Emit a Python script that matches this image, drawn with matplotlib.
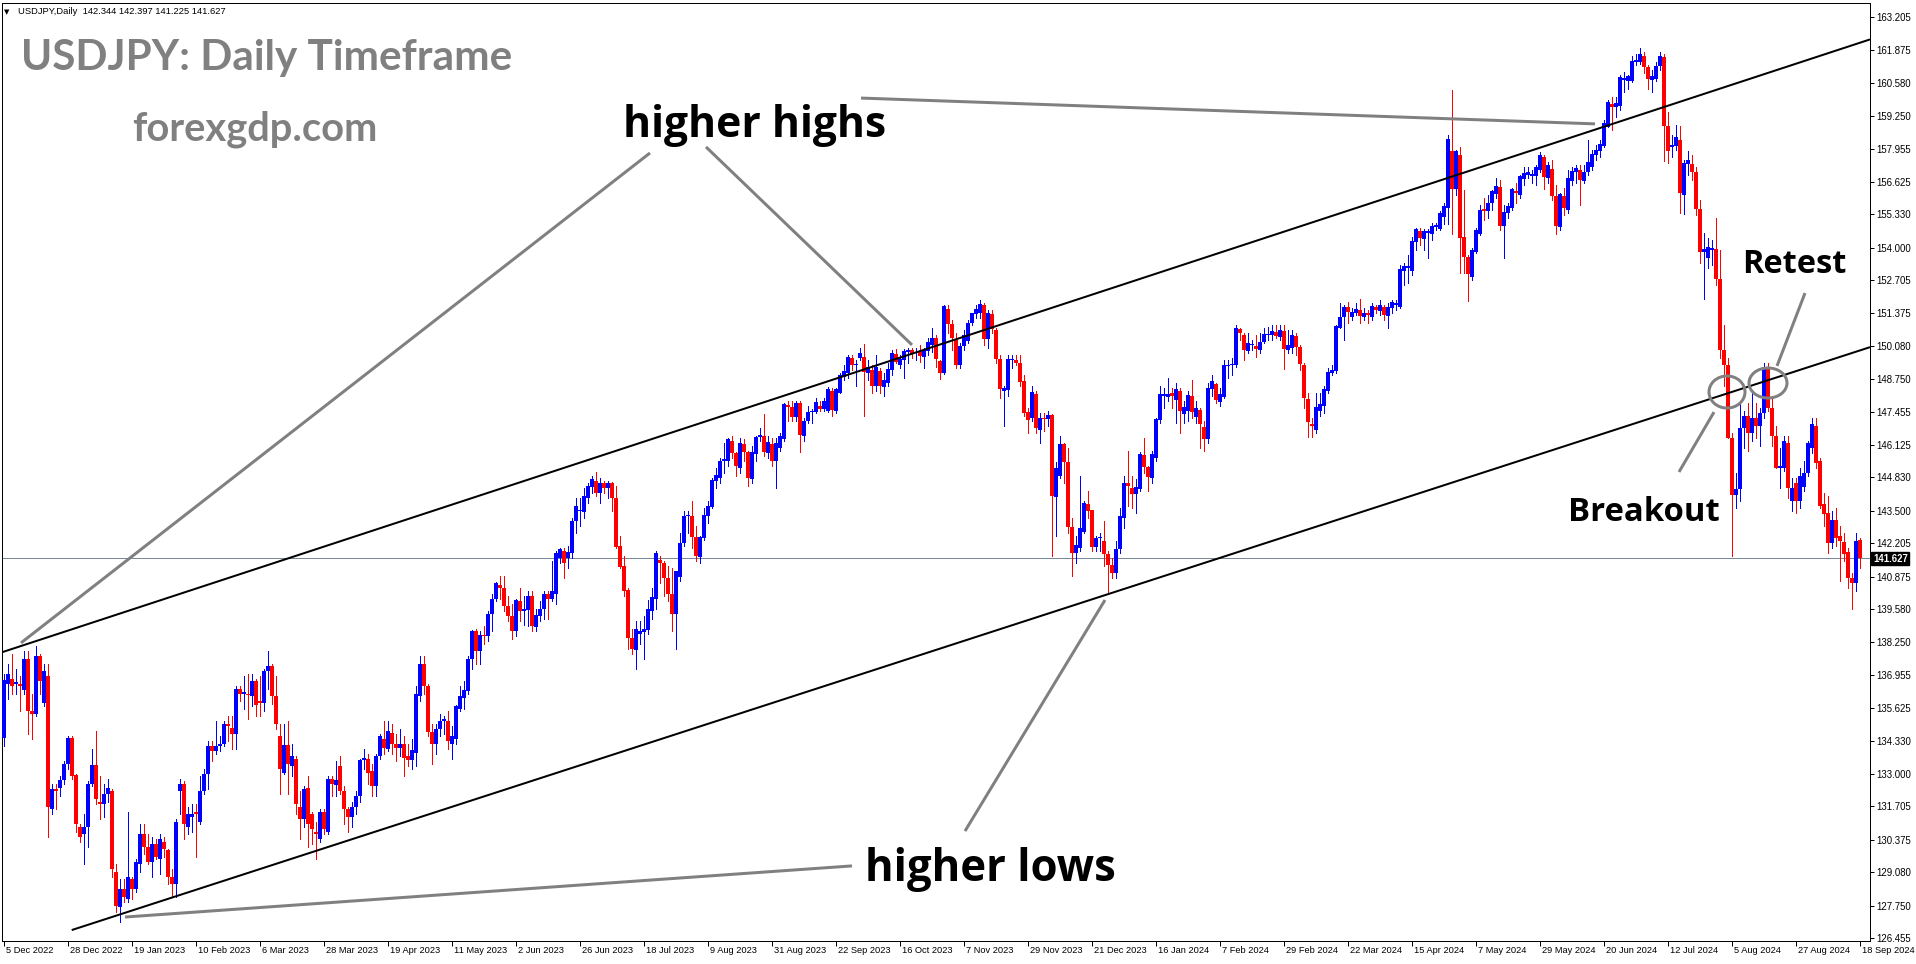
import matplotlib
matplotlib.use("Agg")
import matplotlib.pyplot as plt
from matplotlib.patches import Ellipse
import numpy as np

# ---------------- data (USDJPY daily candles) ----------------
opens = [
 134.42,136.6,136.8,136.6,136.6,136.35,137.6,135.5,135.4,137.7, 135.85,136.9,131.6,132.4,132.45,132.75,133.4,134.45,132.95,130.87,
 130.6,130.9,132.6,133.35,131.9,131.8,132.2,132.3,129.1,127.7, 128.4,128.0,128.8,128.4,129.4,130.6,130.1,129.5,130.2,129.6,
 130.3,129.97,128.9,128.6,132.3,132.6,130.9,131.3,131.5,131.1, 132.3,133.0,
 134.1,133.9,134.1,134.2,135.0,134.85,134.6,136.4,136.2,136.2, 136.1,136.7,135.9,135.85,137.1,137.3,136.1,134.5,133.05,134.15,
 133.3,133.6,131.7,131.2,132.45,131.4,130.7,130.4,131.5,130.7, 132.8,132.55,133.3,132.3,131.6,131.3,131.7,132.1,133.55,133.6,
 133.1,132.5,133.7,134.4,134.0,134.65,134.2,134.05,134.2,133.7, 133.55,
 133.85,136.1,137.4,136.5,134.66,134.2,134.8,135.1,135.1,134.2, 134.4,135.6,136.05,136.3,137.6,138.7,137.9,138.55,138.5,139.4,
 140.0,140.55,140.4,139.7,139.3,138.7,139.9,139.5,139.55,140.1, 138.85,139.3,139.6,140.2,140.0,140.2,141.6,141.9,141.6,141.8,
 143.1,143.5,143.45,144.0,144.46,144.7,144.2,144.6,144.4,144.6, 144.0,142.1,141.3,
 140.34,138.44,137.95,138.6,138.65,138.75,139.5,140.0,141.55,141.4, 140.8,140.2,139.4,140.85,142.2,143.3,143.3,142.45,141.65,142.4,
 143.3,143.65,144.67,144.8,145.5,145.5,146.3,145.8,145.2,146.15, 145.85,144.75,145.77,146.45,146.5,145.8,146.17,145.5,146.0,146.35,
 147.72,147.66,147.23,147.8,146.5,147.1,147.45,147.45,147.68,147.56, 147.5,148.3,147.5,148.2,148.85,148.98,149.6,149.3,149.6,149.65,
 148.98,149.12,
 148.48,149.08,148.46,148.6,149.1,149.76,149.3,149.52,149.83,149.9, 149.8,149.87,149.65,149.88,150.1,150.4,149.48,149.0,151.54,150.94,
 150.3,149.3,150.08,150.27,150.98,151.34,151.4,151.71,150.34,151.34, 150.71,149.56,148.3,148.32,149.5,149.52,149.41,148.68,147.45,147.2,
 148.16,146.72,147.2,147.15,147.32,144.06,144.9,146.15,145.43,142.87, 141.8,142.0,142.67,143.77,143.53,142.07,142.4,142.29,141.76,141.34,
 141.0,141.96,
 143.23,144.62,144.4,144.17,144.37,145.73,145.26,144.8,145.6,147.12, 148.1,148.05,148.19,147.92,148.28,147.35,147.5,148.08,147.25,147.52,
 146.86,146.37,148.36,148.58,147.86,148.05,149.28,149.3,149.3,150.76, 150.52,149.88,150.1,150.08,149.9,150.25,150.5,150.5,150.65,150.45,
 150.67,149.9,150.0,150.47,150.05,149.32,147.96,146.96,146.72,147.5, 147.7,148.3,148.98,149.06,150.8,151.25,151.65,151.25,151.4,151.51,
 151.25,151.38,
 151.22,151.62,151.48,151.62,151.27,151.58,151.7,151.65,153.08,153.2, 153.05,154.24,154.66,154.33,154.57,154.55,154.81,154.73,155.24,155.57,
 157.86,156.33,157.7,154.44,153.64,152.84,153.84,154.53,155.55,155.46, 155.77,156.14,156.43,154.88,155.4,155.6,156.26,156.1,156.74,156.9,
 156.86,156.86,157.1,157.6,156.79,157.12,156.06,154.84,156.06,155.5, 156.67,157.03,157.1,156.68,157.0,157.2,157.7,157.87,158.05,158.83,
 159.73,159.63,
 159.67,160.69,160.66,160.66,161.42,161.42,161.64,161.19,160.69,160.73, 161.26,161.6,158.86,158.0,158.07,158.3,156.12,157.33,157.34,157.0,
 155.56,153.84,153.6,153.9,153.96,152.74,149.93,149.3,146.4,144.14, 144.37,146.8,147.3,146.6,147.2,146.9,147.4,149.24,147.6,146.5,
 145.2,145.2,146.2,143.9,144.6,143.9,144.45,145.0,146.0,146.9, 145.5,143.76,143.4,142.2,143.15,142.5,142.24,141.86,140.8,140.6,
 142.344,
]
highs = [
 137.0,137.4,137.8,137.2,136.9,137.9,137.9,136.2,138.1,137.8, 137.4,137.4,132.6,132.6,132.9,133.5,134.5,134.5,133.0,131.0,
 131.4,132.7,134.0,134.7,132.9,132.6,132.8,132.4,129.4,128.8, 128.8,131.5,128.9,129.6,131.0,131.0,130.6,130.5,130.4,130.6,
 130.5,130.0,129.2,131.2,132.8,132.7,131.7,131.8,131.8,132.9, 133.2,134.3,
 134.3,135.1,134.5,135.1,135.3,135.3,136.5,136.5,136.9,137.0, 137.0,136.8,136.9,137.2,137.9,137.4,136.9,135.0,135.0,135.1,
 134.2,133.7,132.3,132.5,132.9,131.5,131.1,131.6,131.6,132.9, 132.9,133.5,133.7,132.5,131.7,131.9,132.3,133.6,134.0,133.8,
 133.4,133.8,134.6,135.1,135.1,135.0,134.6,134.8,134.5,134.2, 134.4,
 136.5,137.7,137.7,136.6,135.0,135.0,135.4,135.3,135.5,134.9, 135.75,136.5,136.7,137.7,138.75,138.8,138.7,138.9,139.5,140.2,
 140.65,140.9,140.9,140.1,139.8,140.0,140.4,140.1,140.3,140.3, 139.6,139.9,140.3,140.3,141.5,141.9,142.0,142.0,142.1,143.2,
 144.0,144.0,144.4,144.6,144.9,145.05,144.8,144.7,144.7,144.65, 144.5,142.5,141.7,
 140.4,138.8,139.1,139.1,139.3,139.95,140.4,141.9,141.7,141.5, 141.3,141.2,141.1,142.6,143.5,143.5,143.9,142.9,142.5,143.6,
 143.9,144.8,145.2,145.6,146.2,146.4,146.5,145.85,146.4,146.35, 145.9,146.1,146.5,146.8,147.35,146.5,146.4,146.4,146.6,147.8,
 147.9,147.9,147.9,147.9,147.2,147.7,147.55,148.0,147.9,148.0, 148.45,148.4,148.4,149.0,149.3,149.72,149.7,149.5,150.0,150.16,
 149.5,149.3,
 149.7,149.2,149.0,149.4,149.9,149.95,149.7,149.95,150.0,150.0, 150.0,150.1,150.0,150.4,150.8,150.5,149.5,151.72,151.7,151.1,
 150.6,150.2,150.7,151.1,151.4,151.7,151.9,151.8,151.5,151.5, 150.8,149.7,148.5,149.7,149.7,149.7,149.7,148.9,147.6,148.5,
 148.3,147.4,147.4,147.5,147.35,145.45,146.5,146.2,146.0,143.2, 142.5,144.9,143.9,144.3,143.55,142.5,142.6,143.1,141.9,141.6,
 142.3,143.6,
 144.9,145.9,144.9,144.75,145.85,146.4,145.3,145.9,147.2,148.5, 148.4,148.8,148.4,148.6,148.4,147.9,148.3,148.7,147.9,147.6,
 147.1,148.6,148.9,148.6,148.4,149.5,149.5,149.6,150.9,150.8, 150.6,150.6,150.3,150.5,150.6,150.8,150.85,150.9,150.9,150.9,
 150.9,150.7,150.7,150.6,150.1,149.4,148.2,147.2,148.2,148.2, 148.5,149.2,149.3,150.9,151.8,151.7,151.85,151.6,151.8,151.97,
 151.6,151.5,
 151.8,151.7,151.9,151.7,151.8,151.9,151.9,153.3,153.4,153.7, 154.43,154.8,154.8,154.75,154.75,155.0,155.0,155.45,155.8,158.5,
 160.3,157.9,158.0,156.3,153.7,154.0,154.8,155.7,156.0,156.1, 156.3,156.8,156.7,155.7,155.8,156.4,156.6,156.9,157.2,157.2,
 157.1,157.3,157.8,157.7,157.4,157.5,156.5,156.2,156.4,157.1, 157.2,157.3,157.3,157.3,158.3,157.9,158.1,158.3,159.1,159.9,
 160.0,160.0,
 160.88,161.0,160.9,161.65,161.72,161.95,161.8,161.3,161.1,161.42, 161.8,161.72,159.4,158.5,158.9,158.86,157.5,157.86,157.7,157.2,
 155.9,154.6,154.4,154.3,155.2,153.9,150.9,149.6,146.6,145.0, 147.9,147.5,147.8,148.2,147.8,147.6,149.4,149.4,148.0,146.9,
 146.0,146.5,146.5,144.8,144.8,145.2,145.5,146.3,147.2,147.2, 145.6,144.2,144.1,143.5,143.6,142.9,142.6,142.0,141.0,142.6,
 142.397,
]
lows = [
 134.1,136.0,136.2,136.2,135.5,136.2,134.6,134.4,135.3,136.2, 135.7,130.5,131.4,131.6,132.1,132.6,133.2,132.8,130.7,130.3,
 129.4,130.1,132.5,131.8,131.2,131.3,131.9,128.9,127.5,127.1, 127.9,127.9,128.0,128.3,129.1,129.8,129.4,128.9,129.6,129.0,
 129.7,128.6,128.1,128.1,131.4,130.4,130.6,130.7,129.7,131.0, 132.2,132.4,
 133.5,133.8,133.9,134.1,134.3,134.0,134.0,135.9,135.6,135.2, 135.7,135.3,135.3,135.5,136.4,135.8,134.8,132.2,133.0,132.2,
 132.9,131.4,130.4,130.9,130.1,130.2,129.6,130.3,130.6,130.6, 132.1,132.1,132.2,131.0,130.7,130.9,131.4,131.9,133.2,132.6,
 132.1,132.1,133.6,133.8,133.9,133.8,133.5,133.7,132.9,133.3, 133.2,
 133.3,135.9,136.2,134.5,133.4,133.8,134.5,134.6,134.0,133.6, 134.2,135.5,135.6,136.2,137.2,137.4,137.4,138.2,138.3,138.7,
 139.9,140.0,139.5,139.1,138.4,138.5,139.1,138.95,138.9,138.7, 138.7,139.1,139.2,139.2,139.9,139.8,141.4,140.8,141.2,141.6,
 142.6,142.9,143.2,143.8,144.2,144.1,143.8,144.2,144.0,143.5, 142.0,141.2,140.1,
 138.0,137.8,137.2,138.2,137.6,138.6,139.2,139.6,140.6,140.1, 139.9,138.7,138.0,140.7,142.1,142.6,142.0,141.5,141.4,142.35,
 143.0,143.6,144.4,144.6,145.0,145.3,145.6,144.9,145.0,145.5, 144.5,144.6,145.5,146.3,145.7,145.6,145.3,144.4,145.9,146.3,
 147.1,147.1,147.1,145.85,146.3,147.0,147.0,147.4,147.5,147.5, 147.45,147.3,147.4,148.2,148.7,148.8,149.1,148.5,149.5,147.3,
 148.7,148.2,
 148.3,148.2,148.1,148.5,148.9,149.4,149.2,148.8,149.4,149.6, 149.5,149.45,149.2,149.7,149.85,149.25,148.75,148.95,150.6,149.9,
 149.2,149.2,149.9,150.2,150.9,151.2,151.2,150.1,150.0,150.6, 149.4,148.0,146.9,148.1,149.2,149.3,148.5,147.3,146.6,147.1,
 146.6,146.2,146.7,146.9,141.7,142.5,144.8,144.6,142.6,140.9, 141.4,141.9,142.6,143.2,141.9,141.9,141.9,141.3,140.25,140.8,
 140.8,141.8,
 142.8,143.7,143.6,143.4,144.3,145.0,144.3,144.6,145.5,147.0, 147.6,147.9,147.6,147.0,146.6,147.0,147.1,147.2,147.0,146.0,
 145.9,146.2,148.1,147.8,147.7,148.0,148.8,148.9,149.25,150.3, 149.5,149.8,149.9,149.65,149.8,150.2,150.3,150.3,150.4,150.3,
 149.17,149.8,149.8,149.7,149.1,147.6,146.45,146.45,146.6,147.3, 147.4,148.2,148.9,149.0,150.8,150.3,151.0,151.1,151.3,151.0,
 151.1,151.0,
 151.1,151.4,151.3,151.1,150.8,151.4,151.5,151.6,152.5,152.6, 152.9,153.9,154.1,153.9,153.6,154.3,154.7,154.7,154.95,154.95,
 154.53,156.1,153.0,153.0,151.86,152.7,153.8,154.5,155.1,155.2, 155.5,156.0,154.7,153.6,155.2,155.5,155.8,156.0,156.5,156.8,
 156.6,156.5,157.0,156.35,156.6,155.9,154.55,154.7,155.3,155.4, 156.5,156.6,155.7,156.6,156.9,157.1,157.5,157.6,158.0,158.8,
 158.7,159.2,
 159.5,160.2,160.35,160.6,161.27,161.34,160.96,160.32,160.23,160.65, 161.1,157.44,157.37,157.6,157.9,155.4,155.33,156.9,156.7,155.3,
 153.4,151.94,153.2,153.3,152.5,149.6,148.5,146.4,141.68,143.6, 143.9,146.0,145.9,146.3,146.4,146.1,147.2,147.5,146.1,145.2,
 144.4,145.1,144.0,143.5,143.4,143.6,144.3,144.9,145.8,145.2, 143.6,142.9,141.8,142.0,142.1,140.7,141.5,140.4,139.58,140.3,
 141.225,
]
closes = [
 136.75,137.0,136.5,136.67,136.5,137.6,135.5,135.4,137.7,136.7, 137.1,131.7,132.4,132.3,132.75,133.4,134.45,132.9,131.0,130.5,
 130.9,132.6,133.35,132.0,131.8,132.2,132.45,129.2,127.75,128.4, 128.1,128.9,128.4,129.5,130.6,130.1,129.5,130.2,129.7,130.4,
 130.0,128.9,128.6,131.1,132.6,131.0,131.4,131.4,131.4,132.3, 133.0,134.1,
 133.9,134.1,134.2,135.0,134.9,134.6,136.4,136.2,136.25,136.15, 136.7,135.75,135.85,137.1,137.3,136.1,135.0,133.2,134.15,133.4,
 133.7,131.8,131.2,132.4,131.0,130.8,130.6,131.5,130.8,132.8, 132.6,132.75,132.3,131.6,131.3,131.7,132.1,133.55,133.65,133.05,
 132.5,133.7,134.5,134.05,134.7,134.2,134.05,134.2,133.65,133.55, 133.95,
 136.2,137.4,136.5,134.66,134.2,134.8,135.1,135.2,134.3,134.5, 135.7,136.1,136.35,137.6,138.7,137.9,138.55,138.5,139.4,140.0,
 140.6,140.4,139.7,139.3,138.7,139.94,139.5,139.6,140.1,138.9, 139.35,139.6,140.2,140.0,140.3,141.8,141.97,141.4,141.85,143.1,
 143.7,143.55,144.1,144.5,144.77,144.2,144.6,144.4,144.6,144.0, 142.07,141.25,140.3,
 138.44,138.0,138.78,138.7,138.8,139.6,140.05,141.8,141.4,140.8, 140.2,139.4,141.1,142.2,143.3,143.35,142.45,141.7,142.45,143.35,
 143.7,144.73,144.93,145.5,145.57,146.35,145.8,145.3,146.2,145.85, 144.8,145.85,146.46,146.52,145.86,146.23,145.5,146.2,146.5,147.75,
 147.66,147.23,147.8,146.53,147.1,147.45,147.47,147.83,147.56,147.88, 148.36,147.52,148.36,148.92,149.08,149.65,149.3,149.35,149.8,149.05,
 149.25,148.48,
 149.25,148.48,148.72,149.15,149.81,149.45,149.56,149.87,149.92,149.75, 149.85,149.68,149.92,150.25,150.4,149.56,149.0,151.67,150.94,150.4,
 149.3,150.08,150.5,151.0,151.38,151.54,151.75,150.34,151.4,150.74, 149.56,148.36,148.42,149.56,149.56,149.41,148.65,147.41,147.12,148.23,
 146.79,147.19,147.15,147.32,144.09,145.2,146.17,145.45,142.87,141.83, 142.13,142.8,143.8,143.5,142.07,142.4,142.45,141.76,141.34,141.0,
 141.96,143.29,
 144.62,144.5,144.17,144.46,145.77,145.26,144.86,145.77,147.15,148.16, 148.16,148.16,148.1,148.36,147.5,147.65,148.12,147.43,147.6,146.95,
 146.37,148.41,148.68,147.92,148.16,149.32,149.3,149.36,150.78,150.58, 149.9,150.18,150.14,149.94,150.25,150.55,150.55,150.69,150.49,150.71,
 149.95,150.12,150.52,150.05,149.36,148.02,147.06,146.9,147.63,147.76, 148.35,149.05,149.12,150.87,151.25,151.65,151.45,151.45,151.55,151.27,
 151.41,151.32,
 151.67,151.51,151.71,151.31,151.65,151.82,151.8,153.14,153.27,153.27, 154.27,154.74,154.37,154.66,154.66,154.87,154.9,155.37,155.66,158.32,
 156.33,157.86,154.37,153.64,152.95,153.9,154.7,155.5,155.48,155.8, 156.26,156.46,154.88,155.44,155.66,156.33,156.2,156.86,156.99,157.03,
 156.94,157.21,157.7,156.81,157.3,156.08,154.88,156.14,155.6,156.77, 157.07,157.19,156.7,157.03,157.43,157.74,157.9,158.14,158.96,159.8,
 159.63,159.78,
 160.81,160.78,160.84,161.45,161.49,161.72,161.19,160.73,160.84,161.26, 161.64,158.86,157.84,158.1,158.4,156.17,157.38,157.49,157.03,155.56,
 153.84,153.93,154.04,154.0,152.74,149.93,149.3,146.4,144.14,144.37, 146.8,147.3,146.6,147.2,146.9,147.4,149.24,147.6,146.5,145.2,
 145.3,146.3,144.4,144.4,143.9,144.9,145.0,146.2,146.96,145.4, 143.7,143.38,142.2,143.15,142.4,142.3,141.78,140.8,140.6,142.3,
 141.627,
]

date_labels = ["5 Dec 2022", "28 Dec 2022", "19 Jan 2023", "10 Feb 2023", "6 Mar 2023", "28 Mar 2023",
               "19 Apr 2023", "11 May 2023", "2 Jun 2023", "26 Jun 2023", "18 Jul 2023", "9 Aug 2023",
               "31 Aug 2023", "22 Sep 2023", "16 Oct 2023", "7 Nov 2023", "29 Nov 2023", "21 Dec 2023",
               "16 Jan 2024", "7 Feb 2024", "29 Feb 2024", "22 Mar 2024", "15 Apr 2024", "7 May 2024",
               "29 May 2024", "20 Jun 2024", "12 Jul 2024", "5 Aug 2024", "27 Aug 2024", "18 Sep 2024"]
bars_per_label = 16

price_labels = ["163.205", "161.875", "160.580", "159.250", "157.955", "156.625", "155.330", "154.000",
                "152.705", "151.375", "150.080", "148.750", "147.455", "146.125", "144.830", "143.500",
                "142.205", "140.875", "139.580", "138.250", "136.955", "135.625", "134.330", "133.000",
                "131.705", "130.375", "129.080", "127.750", "126.455"]

current_price = 141.627
header_text = "USDJPY,Daily  142.344 142.397 141.225 141.627"

# trend-channel lines (bar index, price)
upper_line = [(-1.0, 137.83), (466.5, 162.31)]
lower_line = [(16.93, 126.77), (466.5, 150.03)]
# gray pointer lines (bar index, price)
pointer_lines = [
    [(4.25, 138.23), (161.5, 157.78)],
    [(175.5, 158.02), (227.0, 150.12)],
    [(214.25, 159.97), (397.75, 158.94)],
    [(30.25, 127.29), (212.0, 129.33)],
    [(240.25, 130.72), (275.25, 139.94)],
    [(418.75, 145.05), (427.5, 147.44)],
    [(443.25, 149.28), (450.25, 152.19)],
]
# circles: (bar, price, width in bars, height in price)
circles = [(430.75, 148.24, 9.0, 1.28), (441.0, 148.60, 9.5, 1.20)]

# ---------------- layout ----------------
W_PX, H_PX = 1916, 964
fig = plt.figure(figsize=(W_PX / 100, H_PX / 100), dpi=100)
fig.patch.set_facecolor("white")

PLOT_L, PLOT_R, PLOT_T, PLOT_B = 2, 1870, 3, 941
ax = fig.add_axes([PLOT_L / W_PX, 1 - PLOT_B / H_PX, (PLOT_R - PLOT_L) / W_PX, (PLOT_B - PLOT_T) / H_PX])
ax.set_facecolor("white")

BAR_PX, X0_PX = 4.0, 4.0
PRICE_TOP, Y_TOP_PX, PX_PER_UNIT = 163.205, 17.0, 25.06


def px2bar(x):
    return (x - X0_PX) / BAR_PX


def px2price(y):
    return PRICE_TOP - (y - Y_TOP_PX) / PX_PER_UNIT


ax.set_xlim(px2bar(PLOT_L), px2bar(PLOT_R))
ax.set_ylim(px2price(PLOT_B), px2price(PLOT_T))

PX = 0.72  # one pixel in points
BLUE, RED = "#0000FF", "#FF0000"

n = min(len(opens), len(highs), len(lows), len(closes))
o = np.array(opens[:n]); h = np.array(highs[:n]); l = np.array(lows[:n]); c = np.array(closes[:n])
xb = np.arange(n)
cols = np.where(c >= o, BLUE, RED)
ax.vlines(xb, l, h, colors=cols, linewidth=1.0 * PX, antialiased=False, zorder=3)
body_bot = np.minimum(o, c)
body_h = np.maximum(np.abs(c - o), 1.0 / PX_PER_UNIT)
ax.bar(xb, body_h, bottom=body_bot, width=0.8, color=cols, linewidth=0, antialiased=False, zorder=4)

# current price line
ax.axhline(current_price, color="#778899", linewidth=1.0 * PX, zorder=2)

# channel
for line in (upper_line, lower_line):
    ax.plot([p[0] for p in line], [p[1] for p in line], color="black", linewidth=2.0 * PX,
            solid_capstyle="butt", zorder=5)

GRAY = "#808080"
for line in pointer_lines:
    ax.plot([p[0] for p in line], [p[1] for p in line], color=GRAY, linewidth=3.0 * PX,
            solid_capstyle="butt", zorder=6)
for (bx, py, wb, hp) in circles:
    ax.add_patch(Ellipse((bx, py), wb, hp, fill=False, edgecolor=GRAY, linewidth=3.0 * PX, zorder=6))

# axes frame & ticks
for s in ax.spines.values():
    s.set_color("black")
    s.set_linewidth(1.0 * PX)

ax.yaxis.tick_right()
price_vals = [float(p) for p in price_labels]
ax.set_yticks(price_vals)
ax.set_yticklabels(price_labels, fontfamily="Liberation Sans", fontsize=6.9)
ax.tick_params(axis="y", direction="out", length=4 * PX, width=1.0 * PX, pad=2 * PX, colors="black")

label_bars = [bars_per_label * i for i in range(len(date_labels))]
ax.set_xticks(label_bars)
ax.set_xticklabels([])
ax.tick_params(axis="x", direction="out", length=5 * PX, width=1.0 * PX)

renderer = fig.canvas.get_renderer()


def fit(t, width_px):
    bb = t.get_window_extent(renderer)
    if bb.width > 0:
        t.set_fontsize(t.get_fontsize() * width_px / bb.width)
    return t


def ftext(xpx, ypx, s, **kw):
    return fig.text(xpx / W_PX, 1 - ypx / H_PX, s, **kw)


# date labels
for b, lab in zip(label_bars, date_labels):
    xpx = X0_PX + BAR_PX * b + 2
    ftext(xpx, 946, lab, ha="left", va="top", fontfamily="Liberation Sans", fontsize=6.7, color="black")

# current price tag
ftext(1873, 558.5, "141.627", ha="left", va="center", fontfamily="Liberation Sans", fontsize=6.9,
      color="white", fontweight="bold",
      bbox=dict(boxstyle="square,pad=0.18", facecolor="black", edgecolor="black"))

# header
ftext(7, 12, "\u25BC", ha="center", va="center", fontfamily="DejaVu Sans", fontsize=5, color="black")
fit(ftext(18, 12, header_text, ha="left", va="center", fontfamily="Liberation Sans", fontsize=7,
          color="black"), 207)

# watermark titles
fit(ftext(21, 70, "USDJPY: Daily Timeframe", ha="left", va="baseline", fontfamily="Lato",
          fontweight="bold", fontsize=30, color=GRAY), 492)
fit(ftext(132, 140, "forexgdp.com", ha="left", va="baseline", fontfamily="Lato",
          fontweight="bold", fontsize=28, color=GRAY), 245)

# annotations
fit(ftext(623, 137, "higher highs", ha="left", va="baseline", fontfamily="Open Sans",
          fontweight="bold", fontsize=30, color="black"), 263)
fit(ftext(865, 881, "higher lows", ha="left", va="baseline", fontfamily="Open Sans",
          fontweight="bold", fontsize=30, color="black"), 251)
fit(ftext(1568, 521, "Breakout", ha="left", va="baseline", fontfamily="Open Sans",
          fontweight="bold", fontsize=22, color="black"), 151)
fit(ftext(1742, 273, "Retest", ha="left", va="baseline", fontfamily="Open Sans",
          fontweight="bold", fontsize=22, color="black"), 104)

fig.savefig("out.png", dpi=100, facecolor="white")
